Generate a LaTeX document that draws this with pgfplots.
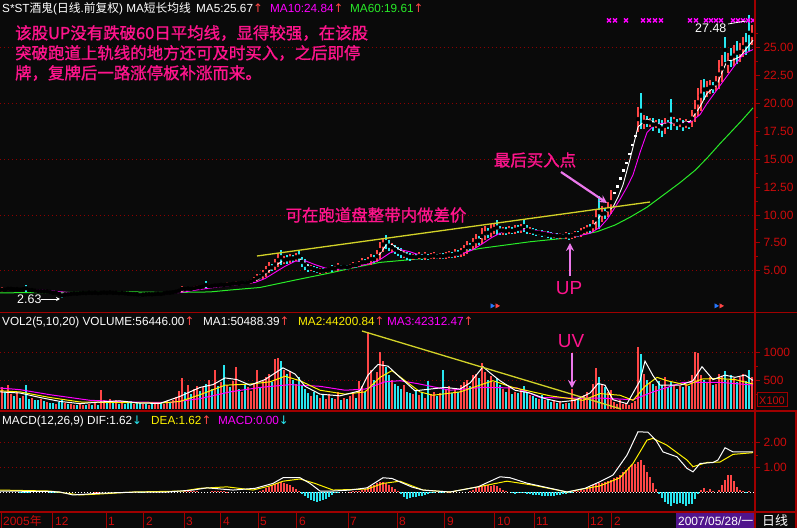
\documentclass[border=0pt]{standalone}
\usepackage{pgfplots}
\pgfplotsset{compat=1.18}
\usepackage{pgfplotstable}
\usetikzlibrary{arrows.meta}
\usepackage{fontspec}
\setmainfont{Liberation Sans}
\newfontfamily\cjk{Noto Sans CJK SC}
\newfontfamily\cjkb{Noto Sans CJK SC}[FakeBold=1.2]
\newfontfamily\dv{DejaVu Sans}

\definecolor{bg}{RGB}{10,10,10}
\definecolor{candred}{RGB}{255,70,70}
\definecolor{candcyan}{RGB}{40,230,240}
\definecolor{ma10}{RGB}{255,0,255}
\definecolor{ma60}{RGB}{40,235,40}
\definecolor{gridred}{RGB}{140,0,0}
\definecolor{axred}{RGB}{160,0,0}
\definecolor{labred}{RGB}{205,10,10}
\definecolor{trendyel}{RGB}{210,210,40}
\definecolor{notepink}{RGB}{255,20,140}
\definecolor{arrowvio}{RGB}{235,120,235}
\definecolor{datepurple}{RGB}{80,20,140}

% up days: x (pixel column), low, high, volume (x100)
\pgfplotstableread{
x lo hi v
2 3.15 3.45 380
8 3.25 3.50 420
11 3.30 3.45 260
17 3.28 3.42 300
23 3.25 3.40 230
32 3.20 3.32 200
41 3.12 3.22 180
47 3.10 3.20 120
56 2.98 3.08 90
65 2.80 2.95 110
71 2.85 3.00 90
74 2.90 3.02 70
80 2.92 3.05 90
83 2.95 3.08 70
89 2.98 3.10 80
95 2.98 3.10 110
101 2.97 3.08 330
104 3.00 3.10 160
110 3.00 3.12 180
116 2.98 3.08 150
122 2.97 3.06 120
134 2.86 2.96 90
143 2.80 2.92 80
149 2.85 2.96 70
155 2.86 2.98 100
158 2.88 3.00 80
164 2.90 3.05 90
167 2.95 3.10 140
173 3.00 3.15 150
176 3.05 3.20 210
179 3.10 3.30 320
182 3.20 3.55 550
188 3.30 3.50 420
194 3.32 3.55 350
197 3.40 3.65 400
203 3.45 3.70 380
209 3.50 3.75 520
215 3.55 3.80 690
221 3.62 3.85 480
227 3.65 3.90 420
233 3.70 3.95 500
236 3.75 4.00 750
242 3.78 4.05 300
248 3.85 4.10 380
251 3.90 4.20 320
254 4.00 4.35 450
257 4.15 4.60 690
263 4.40 4.95 500
266 4.60 5.30 560
269 4.90 5.60 620
275 5.20 5.90 880
278 5.50 6.40 900
284 5.70 6.20 700
290 5.80 6.40 680
296 5.95 6.45 450
311 5.05 5.45 220
320 4.80 5.20 200
326 4.90 5.20 180
329 5.00 5.30 260
335 5.05 5.35 180
338 5.10 5.60 300
344 5.20 5.50 200
350 5.20 5.55 230
353 5.30 5.70 280
359 5.40 5.80 500
362 5.50 6.00 400
368 5.60 6.10 1375
371 5.70 6.40 700
377 5.90 6.70 650
380 6.30 7.40 1018
383 6.90 7.80 850
392 6.80 7.40 520
404 6.20 6.70 420
413 6.05 6.45 260
419 6.10 6.55 250
425 6.10 6.60 200
431 6.10 6.50 260
434 6.15 6.60 300
440 6.15 6.55 280
446 6.15 6.60 350
449 6.20 6.70 400
455 6.25 6.80 360
461 6.35 6.95 420
464 6.50 7.20 480
467 6.70 7.50 520
473 7.00 7.80 600
476 7.20 8.10 620
482 7.60 8.60 810
485 7.90 8.80 650
491 8.20 9.00 580
494 8.40 9.10 480
503 8.35 8.85 350
509 8.40 8.90 380
515 8.40 8.95 300
521 8.50 9.10 330
530 8.35 8.80 250
539 8.25 8.60 180
545 8.15 8.50 150
554 8.00 8.35 130
560 7.95 8.35 140
566 7.95 8.40 110
572 7.95 8.35 350
575 8.05 8.50 180
581 8.15 8.70 220
584 8.30 8.85 250
587 8.40 9.00 300
593 8.60 9.40 450
596 8.90 10.30 725
602 9.60 10.60 420
608 10.00 11.00 300
611 10.40 11.90 330
638 17.80 19.40 1100
644 17.90 18.80 620
650 18.00 18.60 480
656 17.90 18.40 400
665 17.50 18.50 560
674 18.10 18.70 420
680 18.00 18.60 400
686 17.90 18.50 450
692 18.10 19.20 600
695 18.60 20.00 1020
698 19.20 21.00 1000
701 19.70 21.70 600
707 20.80 21.80 480
710 21.00 21.90 560
716 21.30 22.30 450
719 21.70 23.50 620
722 22.30 24.00 580
728 23.00 24.30 520
734 23.60 25.00 550
740 24.00 25.20 560
743 24.40 25.70 620
752 25.50 26.80 564
}\upbars

% down days
\pgfplotstableread{
x lo hi v
5 3.20 3.40 300
14 3.25 3.40 220
20 3.22 3.38 200
26 3.20 3.65 420
29 3.18 3.35 180
35 3.12 3.30 160
38 3.10 3.25 150
44 3.08 3.22 140
50 3.02 3.18 110
53 2.95 3.10 100
59 2.85 3.02 120
62 2.63 2.95 150
68 2.82 2.98 80
77 2.88 3.00 60
86 2.95 3.05 60
92 2.96 3.06 60
98 2.95 3.05 70
107 2.98 3.06 110
113 2.97 3.07 100
119 2.95 3.05 90
125 2.93 3.03 80
128 2.90 3.00 110
131 2.85 2.98 130
137 2.82 2.97 120
140 2.72 2.92 100
146 2.82 2.95 90
152 2.84 2.94 90
161 2.87 2.97 110
170 2.98 3.08 110
185 3.25 3.45 300
191 3.28 3.45 260
200 3.40 3.60 310
206 3.50 3.95 450
212 3.55 3.72 350
218 3.60 3.75 400
224 3.60 3.80 780
230 3.68 3.85 380
239 3.75 3.95 350
245 3.80 4.00 420
260 4.30 4.65 380
272 5.10 5.50 480
281 5.70 6.70 860
287 5.75 6.30 620
293 5.90 6.30 520
299 5.90 6.65 560
302 5.50 6.10 400
305 5.20 5.90 350
308 5.00 5.50 280
314 4.95 5.35 300
317 4.85 5.25 250
323 4.85 5.15 240
332 5.00 5.45 200
341 5.15 5.45 160
347 5.15 5.45 170
356 5.35 5.65 200
365 5.60 5.95 300
374 5.80 6.30 520
386 7.10 8.05 750
389 6.90 7.60 600
395 6.60 7.20 450
398 6.40 7.00 400
401 6.30 6.90 350
407 6.10 6.60 300
410 6.00 6.50 280
416 6.00 6.40 320
422 6.05 6.45 300
428 6.05 6.40 500
437 6.10 6.45 220
443 6.10 6.50 690
452 6.20 6.60 280
458 6.30 6.75 300
470 6.90 7.40 400
479 7.40 8.00 550
488 8.10 8.70 520
497 8.40 9.35 550
500 8.30 8.90 420
506 8.30 8.80 300
512 8.35 8.80 260
518 8.50 9.00 280
524 8.60 9.40 400
527 8.40 8.95 300
533 8.30 8.75 220
536 8.20 8.65 200
542 8.10 8.55 240
548 8.00 8.45 170
551 7.95 8.40 120
557 7.90 8.30 100
563 7.90 8.25 90
569 7.85 8.30 100
578 8.10 8.45 150
590 8.50 9.05 200
599 9.20 11.30 560
605 9.80 10.50 380
641 18.20 20.50 970
647 18.00 18.70 520
653 17.70 18.50 450
659 17.50 18.40 500
662 17.20 18.30 420
668 17.80 18.40 380
671 18.00 20.00 480
677 17.80 18.50 350
683 17.70 18.40 380
689 17.80 18.30 400
704 20.60 21.90 520
713 21.10 21.80 420
725 24.00 25.60 680
731 23.50 24.70 600
737 23.80 25.30 480
746 24.60 26.00 500
749 25.20 27.48 700
}\downbars

% one-price limit-up days
\pgfplotstableread{
x p v
614 12.0 120
617 12.6 90
620 13.3 150
623 14.0 80
626 14.7 100
629 15.5 70
632 16.3 110
635 17.1 140
}\limitup

\pgfplotstableread{
x v
95 0.02
98 0.02
185 0.03
188 0.04
191 0.05
194 0.04
197 0.03
212 0.05
215 0.06
218 0.05
221 0.04
224 0.03
227 0.02
260 0.05
263 0.10
266 0.15
269 0.22
272 0.28
275 0.33
278 0.38
281 0.41
284 0.38
287 0.33
290 0.28
293 0.20
296 0.12
299 0.05
350 0.02
353 0.03
356 0.05
359 0.06
362 0.08
365 0.12
368 0.20
371 0.26
374 0.30
377 0.35
380 0.40
383 0.42
386 0.35
389 0.28
392 0.20
395 0.12
398 0.05
446 0.03
449 0.02
455 0.03
470 0.05
473 0.10
476 0.15
479 0.20
482 0.25
485 0.27
488 0.28
491 0.26
494 0.30
497 0.25
500 0.15
503 0.08
506 0.03
575 0.03
578 0.05
581 0.07
584 0.10
587 0.15
590 0.20
593 0.28
596 0.33
599 0.35
602 0.38
605 0.40
608 0.45
611 0.50
614 0.55
617 0.60
620 0.70
623 0.80
626 0.90
629 1.00
632 1.10
635 1.15
638 1.20
641 1.30
644 1.10
647 0.80
650 0.60
653 0.35
656 0.12
701 0.10
704 0.18
707 0.05
710 0.12
713 0.06
719 0.10
722 0.30
725 0.50
728 0.70
731 0.68
734 0.45
737 0.20
740 0.10
743 0.05
749 0.03
}\macdpos

\pgfplotstableread{
x v
20 -0.02
23 -0.03
26 -0.03
29 -0.02
50 -0.03
53 -0.04
56 -0.04
59 -0.03
62 -0.03
140 -0.02
143 -0.02
302 -0.08
305 -0.18
308 -0.26
311 -0.32
314 -0.36
317 -0.40
320 -0.38
323 -0.33
326 -0.28
329 -0.20
332 -0.12
335 -0.06
338 -0.02
401 -0.10
404 -0.20
407 -0.28
410 -0.25
413 -0.20
416 -0.22
419 -0.18
422 -0.15
425 -0.12
428 -0.10
431 -0.06
434 -0.04
440 -0.03
443 -0.05
512 -0.05
515 -0.08
518 -0.06
521 -0.05
524 -0.03
527 -0.08
530 -0.10
533 -0.12
536 -0.13
539 -0.14
542 -0.16
545 -0.17
548 -0.15
551 -0.16
554 -0.15
557 -0.14
560 -0.13
563 -0.10
566 -0.08
569 -0.05
572 -0.03
659 -0.10
662 -0.25
665 -0.40
668 -0.50
671 -0.55
674 -0.45
677 -0.50
680 -0.45
683 -0.50
686 -0.55
689 -0.50
692 -0.48
695 -0.30
698 -0.10
746 -0.03
}\macdneg

\pgfplotsset{
  panel/.style={scale only axis, width=755bp, xmin=0, xmax=755, anchor=north west,
    axis x line=none, axis y line*=right, y axis line style={draw=none},
    tick align=outside, major tick length=5bp, minor tick length=3bp,
    tick style={axred, line width=0.8bp},
    ymajorgrids, grid style={gridred, line width=0.8bp, dash pattern=on 1bp off 3bp},
    /pgf/number format/assume math mode=true,
    yticklabel style={font=\fontsize{12}{14}\selectfont, text=labred},
    clip=true},
  candle/.style={only marks, mark=none, error bars/.cd, y dir=both, y explicit,
    error mark=none, error bar style={line width=1.4bp, draw=#1}},
}

\newcommand{\hf}{\fontsize{11.8}{14}\selectfont}

\begin{document}
\begin{tikzpicture}
\fill[bg] (0,0) rectangle (797bp,-528bp);

% ---------- price panel ----------
\begin{axis}[panel, at={(0bp,0bp)}, height=311bp, ymin=1.39, ymax=29.28,
  ytick={5,10,15,20,25}, extra y ticks={7.5,12.5,17.5,22.5},
  extra y tick style={grid=none},
  minor ytick={6.25,8.75,11.25,13.75,16.25,18.75,21.25,23.75,26.25},
  yticklabel style={/pgf/number format/.cd, fixed, fixed zerofill, precision=2}]
\addplot[ma60, line width=1bp] coordinates {(0,3.02)(60,3.05)(120,3.12)(170,3.05)(210,3.1)(230,3.27)(260,3.5)(297,4.2)(330,4.8)(355,5.3)(380,5.75)(430,6.15)(480,7.0)(530,7.6)(563,7.9)(597,8.5)(615,9.1)(630,9.8)(647,10.7)(665,11.9)(680,12.9)(695,14.0)(707,15.1)(720,16.4)(730,17.35)(742,18.5)(753,19.61)};
% candle lines, drawn a little taller than low-high so that they stay visible at this size
\addplot[candle=candred] table[x=x, y expr={0.5*(\thisrow{lo}+\thisrow{hi})}, y error expr={0.7*(\thisrow{hi}-\thisrow{lo})}] {\upbars};
\addplot[candle=candcyan] table[x=x, y expr={0.5*(\thisrow{lo}+\thisrow{hi})}, y error expr={0.7*(\thisrow{hi}-\thisrow{lo})}] {\downbars};
\addplot[only marks, mark=square*, mark size=0.7bp, white] table[x=x, y=p] {\limitup};
\addplot[ma10, line width=0.9bp] coordinates {(2,3.35)(25,3.33)(45,3.25)(60,3.12)(75,3.0)(90,2.97)(110,3.01)(130,2.98)(150,2.9)(165,2.93)(180,3.05)(195,3.25)(210,3.45)(225,3.62)(240,3.78)(255,3.95)(265,4.3)(275,4.85)(285,5.4)(295,5.85)(305,5.9)(315,5.55)(325,5.25)(335,5.12)(345,5.2)(360,5.45)(372,5.7)(380,6.0)(390,6.6)(400,6.9)(410,6.7)(420,6.4)(432,6.3)(445,6.3)(460,6.45)(472,6.85)(482,7.4)(492,8.0)(502,8.45)(515,8.65)(528,8.7)(540,8.55)(552,8.35)(565,8.15)(578,8.12)(590,8.35)(600,8.9)(607,9.6)(613,10.4)(620,11.4)(627,12.5)(633,13.6)(640,15.6)(647,17.4)(655,18.1)(665,18.25)(690,18.3)(700,19.0)(707,20.0)(720,21.6)(733,23.2)(743,24.4)(753,24.84)};
\addplot[white, line width=0.9bp] coordinates {(2,3.35)(20,3.32)(40,3.2)(55,3.05)(65,2.88)(80,2.95)(100,3.02)(120,3.02)(135,2.92)(150,2.88)(165,2.97)(180,3.15)(195,3.42)(210,3.6)(225,3.72)(240,3.88)(252,4.0)(260,4.3)(268,4.9)(276,5.5)(284,5.95)(292,6.1)(298,6.2)(304,5.8)(310,5.3)(318,5.05)(326,5.02)(336,5.2)(348,5.32)(360,5.6)(372,5.95)(380,6.5)(386,7.3)(392,7.35)(400,6.85)(410,6.35)(420,6.25)(432,6.3)(445,6.35)(455,6.45)(465,6.8)(475,7.5)(485,8.2)(495,8.75)(505,8.65)(515,8.65)(525,8.8)(535,8.5)(545,8.3)(555,8.15)(565,8.1)(575,8.15)(585,8.55)(593,9.0)(600,9.9)(607,10.3)(613,10.7)(618,11.6)(623,12.7)(630,15.0)(638,17.9)(647,18.6)(655,18.3)(660,18.1)(670,18.25)(680,18.3)(690,18.4)(700,19.7)(707,20.9)(717,21.7)(722,22.8)(727,23.8)(733,23.9)(740,24.2)(748,25.1)(753,25.67)};
\addplot[only marks, mark=x, mark size=2.8bp, ma10, line width=1.3bp] coordinates {(609,27.45)(615,27.45)(626,27.45)(643,27.45)(649,27.45)(655,27.45)(661,27.45)(690,27.45)(696,27.45)(706,27.45)(711,27.45)(716,27.45)(721,27.45)(733,27.45)(738,27.45)(743,27.45)(748,27.45)(753,27.45)};
\addplot[only marks, mark=triangle*, mark size=2.5bp, mark options={rotate=-90}, color={rgb,255:red,40;green,120;blue,255}] coordinates {(492,1.85)(716,1.85)};
\addplot[only marks, mark=triangle*, mark size=2.5bp, mark options={rotate=-90}, candred] coordinates {(497,1.85)(721,1.85)};
\end{axis}

% ---------- volume panel ----------
\begin{axis}[panel, at={(0bp,-313bp)}, height=97bp, ymin=-23.2, ymax=1709,
  ytick={500,1000}, minor ytick={250,750},
  yticklabel style={/pgf/number format/.cd, fixed, precision=0, 1000 sep={}}]
\addplot[ycomb, candred, line width=1.3bp] table[x=x, y=v] {\upbars};
\addplot[ycomb, candred, line width=1.3bp] table[x=x, y=v] {\limitup};
\addplot[ycomb, candcyan, line width=1.3bp] table[x=x, y=v] {\downbars};
\addplot[ma10, line width=1bp] coordinates {(0,370)(20,340)(50,250)(90,150)(130,120)(170,110)(200,180)(230,300)(260,380)(290,430)(320,400)(345,330)(365,350)(385,480)(400,500)(417,450)(450,330)(483,380)(517,370)(540,200)(570,190)(600,190)(633,160)(653,300)(683,470)(720,470)(753,423)};
\addplot[yellow, line width=1bp] coordinates {(0,320)(20,300)(50,200)(80,120)(120,110)(160,100)(180,130)(200,250)(225,420)(250,440)(270,480)(285,580)(300,500)(320,330)(345,260)(365,300)(380,560)(392,680)(405,500)(420,300)(433,240)(460,300)(493,500)(513,380)(550,230)(583,150)(600,270)(620,240)(633,150)(645,400)(657,560)(667,500)(687,420)(702,530)(717,540)(735,520)(753,442)};
\addplot[white, line width=1bp] coordinates {(0,300)(20,280)(40,200)(60,130)(80,90)(100,120)(120,140)(140,100)(160,95)(180,220)(200,380)(213,430)(225,550)(237,520)(250,420)(265,520)(283,730)(295,620)(305,400)(320,260)(340,230)(360,320)(368,600)(378,790)(388,760)(400,560)(415,320)(430,350)(445,380)(460,350)(470,460)(483,750)(490,640)(500,500)(515,330)(530,280)(545,180)(560,120)(575,150)(590,280)(598,450)(605,420)(613,160)(627,90)(640,500)(645,850)(653,590)(660,420)(680,420)(693,500)(702,750)(713,520)(725,600)(735,560)(745,600)(753,505)};
\end{axis}

% ---------- MACD panel ----------
\begin{axis}[panel, at={(0bp,-411bp)}, height=100bp, ymin=-0.772, ymax=3.293,
  ytick={1,2}, minor ytick={1.5},
  yticklabel style={/pgf/number format/.cd, fixed, fixed zerofill, precision=2}]
\draw[white, line width=0.8bp, dash pattern=on 1bp off 2bp] (axis cs:0,0) -- (axis cs:755,0);
\addplot[ycomb, candred, line width=1.3bp] table[x=x, y=v] {\macdpos};
\addplot[ycomb, candcyan, line width=1.3bp] table[x=x, y=v] {\macdneg};
\addplot[yellow, line width=1bp] coordinates {(0,0.08)(50,0.04)(67,-0.05)(80,-0.12)(100,-0.08)(133,0.0)(183,0.04)(200,0.15)(227,0.21)(253,0.08)(270,0.25)(283,0.44)(300,0.53)(315,0.35)(333,0.08)(367,0.12)(383,0.35)(400,0.44)(412,0.25)(423,0.08)(450,0.0)(487,0.28)(507,0.44)(533,0.28)(567,0.0)(600,0.25)(620,0.58)(633,1.16)(647,2.11)(653,2.18)(667,1.9)(687,1.3)(693,1.03)(707,1.2)(720,1.22)(733,1.53)(753,1.6)};
\addplot[white, line width=1bp] coordinates {(0,0.04)(50,0.02)(60,0.0)(73,-0.12)(100,-0.05)(130,-0.01)(167,0.0)(193,0.08)(207,0.17)(233,0.08)(255,0.15)(273,0.35)(283,0.58)(300,0.58)(310,0.35)(320,0.04)(333,0.04)(350,0.08)(367,0.17)(383,0.58)(392,0.55)(400,0.41)(412,0.2)(423,0.08)(450,0.0)(478,0.21)(500,0.62)(510,0.58)(527,0.36)(545,0.2)(567,0.0)(585,0.15)(600,0.42)(613,0.69)(627,1.5)(638,2.45)(648,2.43)(656,2.1)(663,1.63)(677,1.43)(687,0.96)(693,0.82)(700,1.16)(713,1.2)(718,1.3)(725,1.8)(733,1.63)(753,1.63)};
\end{axis}

% ---------- frame, headers and notes (pixel coordinates) ----------
\begin{scope}[x=1bp, y=-1bp]
\draw[axred, line width=1.2bp] (755,0) -- (755,528);
\draw[axred, line width=1.2bp] (0,312.5) -- (797,312.5);
\draw[axred, line width=1.2bp] (0,411) -- (797,411);
\draw[axred, line width=1.2bp] (0,512) -- (797,512);
\draw[axred, line width=1.2bp] (796,411) -- (796,528);
\foreach \m in {1,52,106,143,184,220,258,296,348,397,444,494,534,588,611}
  \draw[axred, line width=1bp] (\m,512) -- (\m,528);
\draw[axred, line width=1bp] (757,392) rectangle (787,406);
\node[anchor=base west, inner sep=0, text=labred, font=\fontsize{11}{13}\selectfont] at (759,404) {X100};

% price header
\node[anchor=base west, inner sep=0, white, font=\hf] at (2,12) {S*ST{\cjk 酒鬼}({\cjk 日线}.{\cjk 前复权}) MA{\cjk 短长均线}};
\node[anchor=base west, inner sep=0, white, font=\hf] at (196,12) {MA5:25.67{\color{candred}\dv ↑}};
\node[anchor=base west, inner sep=0, ma10, font=\hf] at (270,12) {MA10:24.84{\color{candred}\dv ↑}};
\node[anchor=base west, inner sep=0, ma60, font=\hf] at (350,12) {MA60:19.61{\color{candred}\dv ↑}};
% volume header
\node[anchor=base west, inner sep=0, white, font=\hf] at (2,325) {VOL2(5,10,20) VOLUME:56446.00{\color{candred}\dv ↑}};
\node[anchor=base west, inner sep=0, white, font=\hf] at (203,325) {MA1:50488.39{\color{candred}\dv ↑}};
\node[anchor=base west, inner sep=0, yellow, font=\hf] at (298,325) {MA2:44200.84{\color{candred}\dv ↑}};
\node[anchor=base west, inner sep=0, ma10, font=\hf] at (387,325) {MA3:42312.47{\color{candred}\dv ↑}};
% MACD header
\node[anchor=base west, inner sep=0, white, font=\hf] at (2,424) {MACD(12,26,9) DIF:1.62{\color{candcyan}\dv ↓}};
\node[anchor=base west, inner sep=0, yellow, font=\hf] at (151,424) {DEA:1.62{\color{candred}\dv ↑}};
\node[anchor=base west, inner sep=0, ma10, font=\hf] at (218,424) {MACD:0.00{\color{candcyan}\dv ↓}};

% date bar
\foreach \xx/\lab in {55/12,108/1,146/2,186/3,223/4,260/5,299/6,350/7,399/8,447/9,497/10,536/11,590/12,614/2}
  \node[anchor=base west, inner sep=0, text=labred, font=\fontsize{12}{14}\selectfont] at (\xx,525) {\lab};
\node[anchor=base west, inner sep=0, text=labred, font=\fontsize{12}{14}\selectfont] at (3,525) {2005{\cjk 年}};
\fill[datepurple] (676,513) rectangle (754,528);
\node[anchor=base west, inner sep=0, white, font=\fontsize{12}{14}\selectfont] at (678,525) {2007/05/28/{\cjk 一}};
\node[anchor=base west, inner sep=0, white, font=\fontsize{13}{15}\selectfont\cjk] at (762,525) {日线};

% channel and volume trend lines
\draw[trendyel, line width=1.3bp] (257,256) -- (650,202);
\draw[trendyel, line width=1.3bp] (362,331) -- (621,409);

% labels of extremes
\node[anchor=base west, inner sep=0, white, font=\fontsize{12.5}{14}\selectfont] at (17,303) {2.63};
\draw[white, line width=0.8bp, -{Stealth[length=4bp,width=4bp]}] (41,299) -- (60,299);
\node[anchor=base west, inner sep=0, white, font=\fontsize{12.5}{14}\selectfont] at (695,32) {27.48};
\draw[white, line width=0.8bp] (728,24) -- (746,21);

% notes
\begin{scope}[font=\fontsize{16.5}{20}\selectfont\cjkb, text=notepink]
\node[anchor=west, inner sep=0] at (15,33) {该股UP没有跌破60日平均线，显得较强，在该股};
\node[anchor=west, inner sep=0] at (15,53) {突破跑道上轨线的地方还可及时买入，之后即停};
\node[anchor=west, inner sep=0] at (15,73) {牌，复牌后一路涨停板补涨而来。};
\node[anchor=center, inner sep=0] at (376,215) {可在跑道盘整带内做差价};
\node[anchor=center, inner sep=0] at (535,160) {最后买入点};
\end{scope}
\draw[arrowvio, line width=2.2bp, -{Stealth[length=8bp,width=8bp]}] (561,172) -- (607,203);
\draw[arrowvio, line width=2.2bp, -{Stealth[length=8bp,width=8bp]}] (570,276) -- (570,243);
\draw[arrowvio, line width=2.2bp, -{Stealth[length=8bp,width=8bp]}] (572,353) -- (572,388);
\node[anchor=center, inner sep=0, text=notepink, font=\fontsize{19}{22}\selectfont] at (569,288) {UP};
\node[anchor=center, inner sep=0, text=notepink, font=\fontsize{19}{22}\selectfont] at (571,341) {UV};
\end{scope}

\pgfresetboundingbox
\path[use as bounding box] (0,0) rectangle (797bp,-528bp);
\end{tikzpicture}
\end{document}
